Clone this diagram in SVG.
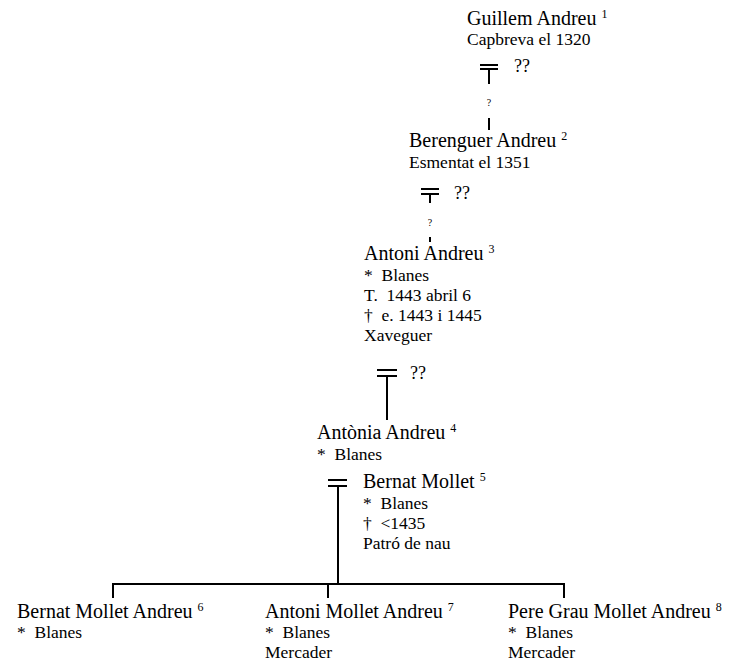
<svg xmlns="http://www.w3.org/2000/svg" width="731" height="665" viewBox="0 0 731 665">
<style>
text{font-family:'Liberation Serif','Times New Roman',Times,serif;fill:#000;white-space:pre}
.n{font-size:20px}
.d{font-size:17.5px}
.s{font-size:12px}
.q{font-size:18px}
.qs{font-size:10px}
.l{stroke:#000;stroke-width:2;fill:none}
</style>
<rect width="731" height="665" fill="#fff"/>
<g id="connectors">
<path class="l" d="M480 65H498M480 69H498M489 69V84"/>
<path class="l" d="M489 118V130"/>
<path class="l" d="M421 189H439M421 194H439M430 194V203"/>
<path class="l" d="M430 237V242"/>
<path class="l" d="M377 370H397M377 376H397M387 376V420"/>
<path class="l" d="M328 480H347M328 486H347M338 486V584"/>
<path class="l" d="M113 598V584H564V598M328 584V598"/>
<text class="q" x="514" y="72">??</text>
<text class="qs" x="489" y="106" text-anchor="middle">?</text>
<text class="q" x="454" y="199">??</text>
<text class="qs" x="430" y="226" text-anchor="middle">?</text>
<text class="q" x="410" y="379">??</text>
</g>
<g id="n1" font-family="Liberation Serif">
<text class="n" x="467" y="25">Guillem Andreu <tspan class="s" dy="-7">1</tspan></text>
<text class="d" x="467" y="45">Capbreva el 1320</text>
</g>
<g id="n2">
<text class="n" x="409" y="147">Berenguer Andreu <tspan class="s" dy="-7">2</tspan></text>
<text class="d" x="409" y="168">Esmentat el 1351</text>
</g>
<g id="n3">
<text class="n" x="364" y="260">Antoni Andreu <tspan class="s" dy="-7">3</tspan></text>
<text class="d" x="364" y="281">*  Blanes</text>
<text class="d" x="364" y="301">T.  1443 abril 6</text>
<text class="d" x="364" y="321">†  e. 1443 i 1445</text>
<text class="d" x="364" y="341">Xaveguer</text>
</g>
<g id="n4">
<text class="n" x="317" y="439">Antònia Andreu <tspan class="s" dy="-7">4</tspan></text>
<text class="d" x="317" y="460">*  Blanes</text>
</g>
<g id="n5">
<text class="n" x="363" y="488">Bernat Mollet <tspan class="s" dy="-7">5</tspan></text>
<text class="d" x="363" y="509">*  Blanes</text>
<text class="d" x="363" y="529">†  &lt;1435</text>
<text class="d" x="363" y="549">Patró de nau</text>
</g>
<g id="n6">
<text class="n" x="17" y="618">Bernat Mollet Andreu <tspan class="s" dy="-7">6</tspan></text>
<text class="d" x="17" y="638">*  Blanes</text>
</g>
<g id="n7">
<text class="n" x="265" y="618">Antoni Mollet Andreu <tspan class="s" dy="-7">7</tspan></text>
<text class="d" x="265" y="638">*  Blanes</text>
<text class="d" x="265" y="658">Mercader</text>
</g>
<g id="n8">
<text class="n" x="508" y="618">Pere Grau Mollet Andreu <tspan class="s" dy="-7">8</tspan></text>
<text class="d" x="508" y="638">*  Blanes</text>
<text class="d" x="508" y="658">Mercader</text>
</g>
</svg>
